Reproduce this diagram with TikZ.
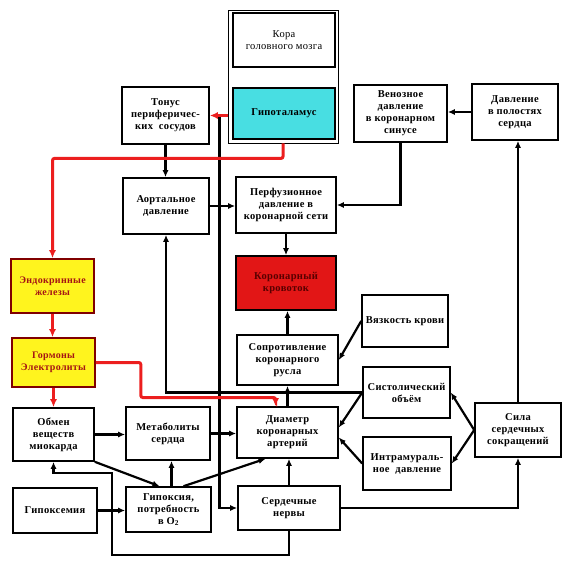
\documentclass[tikz,border=0pt]{standalone}
\usepackage{fontspec}
\setmainfont{Liberation Serif}[LetterSpace=3]
\usetikzlibrary{arrows.meta,positioning,calc}

\definecolor{hypocyan}{RGB}{72,222,226}
\definecolor{glandyellow}{RGB}{255,244,30}
\definecolor{glandtext}{RGB}{165,20,20}
\definecolor{flowred}{RGB}{226,22,22}
\definecolor{linered}{RGB}{236,30,30}

\begin{document}
\begin{tikzpicture}[x=1pt, y=-1pt,
    blk/.style={draw, line width=1.6pt, inner sep=1pt, align=center, fill=white,
        font=\fontsize{10.5}{12}\selectfont\bfseries},
    gland/.style={blk, draw=red!50!black, fill=glandyellow, text=glandtext,
        font=\fontsize{10}{12}\selectfont\bfseries},
    arr/.style={-{Latex[length=7pt,width=6pt]}, line width=2.2pt},
    redarr/.style={-{Latex[length=8pt,width=7pt]}, line width=3pt, draw=linered, rounded corners=2pt}
]
\useasboundingbox (0,0) rectangle (582,582);

% brain
\node[draw, line width=0.8pt, minimum width=110, minimum height=133] (brain) at (283,76.5) {};
\node[blk, minimum width=102, minimum height=54, font=\fontsize{10.5}{12}\selectfont] (kora) at (284,40) {Кора\\головного мозга};
\node[blk, fill=hypocyan, minimum width=102, minimum height=51] (hypo) at (284,113.5) {Гипоталамус};

% top row
\node[blk, minimum width=87, minimum height=57] (tonus) at (165.5,115.5) {Тонус\\периферичес-\\ких~~сосудов};
\node[blk, minimum width=93, minimum height=57] (venous) at (400.5,113.5) {Венозное\\давление\\в коронарном\\синусе};
\node[blk, minimum width=86, minimum height=56] (polost) at (515,112) {Давление\\в полостях\\сердца};
\node[blk, minimum width=86, minimum height=56] (aortal) at (166,206) {Аортальное\\давление};
\node[blk, minimum width=100, minimum height=56] (perf) at (286,205) {Перфузионное\\давление в\\коронарной сети};
\node[blk, fill=flowred, text=red!35!black, minimum width=100, minimum height=54] (flow) at (286,283) {Коронарный\\кровоток};

% left column
\node[gland, minimum width=83, minimum height=54] (endo) at (52.5,286) {Эндокринные\\железы};
\node[gland, minimum width=83, minimum height=49] (horm) at (53.5,362.5) {Гормоны\\Электролиты};

% middle
\node[blk, minimum width=86, minimum height=52] (vyaz) at (405,321) {Вязкость крови};
\node[blk, minimum width=101, minimum height=50] (sopr) at (287.5,360) {Сопротивление\\коронарного\\русла};
\node[blk, minimum width=87, minimum height=51] (syst) at (406.5,392.5) {Систолический\\объём};
\node[blk, minimum width=88, minimum height=53] (intra) at (407,463.5) {Интрамураль-\\ное~~давление};
\node[blk, minimum width=86, minimum height=54] (sila) at (518,430) {Сила\\сердечных\\сокращений};

% bottom rows
\node[blk, minimum width=81, minimum height=53] (obmen) at (53.5,434.5) {Обмен\\веществ\\миокарда};
\node[blk, minimum width=84, minimum height=53] (metab) at (168,433.5) {Метаболиты\\сердца};
\node[blk, minimum width=101, minimum height=51] (diam) at (287.5,432.5) {Диаметр\\коронарных\\артерий};
\node[blk, minimum width=84, minimum height=45] (hypoxemia) at (55,510.5) {Гипоксемия};
\node[blk, minimum width=85, minimum height=45] (hypoxia) at (168.5,509.5) {Гипоксия,\\потребность\\в O\textsubscript{2}};
\node[blk, minimum width=102, minimum height=44] (nervy) at (289,508) {Сердечные\\нервы};

\coordinate (hj) at ($(tonus.east)!0.55!(brain.west |- tonus.east)$);
\coordinate (oj) at (112,473);

% black connectors
\draw[arr] (hj) |- (nervy.west);
\draw[arr] (tonus.south) -- (tonus.south |- aortal.north);
\draw[arr] (aortal.east) -- (aortal.east -| perf.west);
\draw[arr] (venous.south) |- (perf.east);
\draw[arr] (polost.west) -- (polost.west -| venous.east);
\draw[arr] (perf.south) -- (flow.north);
\draw[arr] (sopr.north) -- (sopr.north |- flow.south);
\draw[arr] (diam.north) -- (sopr.south);
\draw[arr] (vyaz.west) -- (sopr.east);
\draw[arr] (syst.west) -| (aortal.south);
\draw[arr] (syst.west) -- ([yshift=5pt]diam.east);
\draw[arr] (intra.west) -- ([yshift=-5pt]diam.east);
\draw[arr] (sila.west) -- (syst.east);
\draw[arr] (sila.west) -- (intra.east);
\draw[arr] (sila.north) -- (sila.north |- polost.south);
\draw[arr] (nervy.east) -| (sila.south);
\draw[arr] (nervy.north) -- (nervy.north |- diam.south);
\draw[arr] (nervy.south) -- ++(0,24) -| (oj) -| (obmen.south);
\draw[arr] (hypoxemia.east) -- (hypoxemia.east -| hypoxia.west);
\draw[arr] ([xshift=3pt]hypoxia.north) -- ([xshift=3pt]hypoxia.north |- metab.south);
\draw[arr] (obmen.south east) -- ([xshift=-9pt]hypoxia.north);
\draw[arr] ([xshift=15pt]hypoxia.north) -- ([xshift=-22pt]diam.south);
\draw[arr] (obmen.east) -- (obmen.east -| metab.west);
\draw[arr] (metab.east) -- (metab.east -| diam.west);

% red connectors
\draw[redarr] (brain.west |- tonus.east) -- (tonus.east);
\draw[redarr] (brain.south) -- ++(0,15) -| (endo.north);
\draw[redarr] (endo.south) -- (endo.south |- horm.north);
\draw[redarr] (horm.south) -- (obmen.north);
\draw[redarr] (horm.east) -| ++(45,35) -| ([xshift=-12pt]diam.north);
\end{tikzpicture}
\end{document}
